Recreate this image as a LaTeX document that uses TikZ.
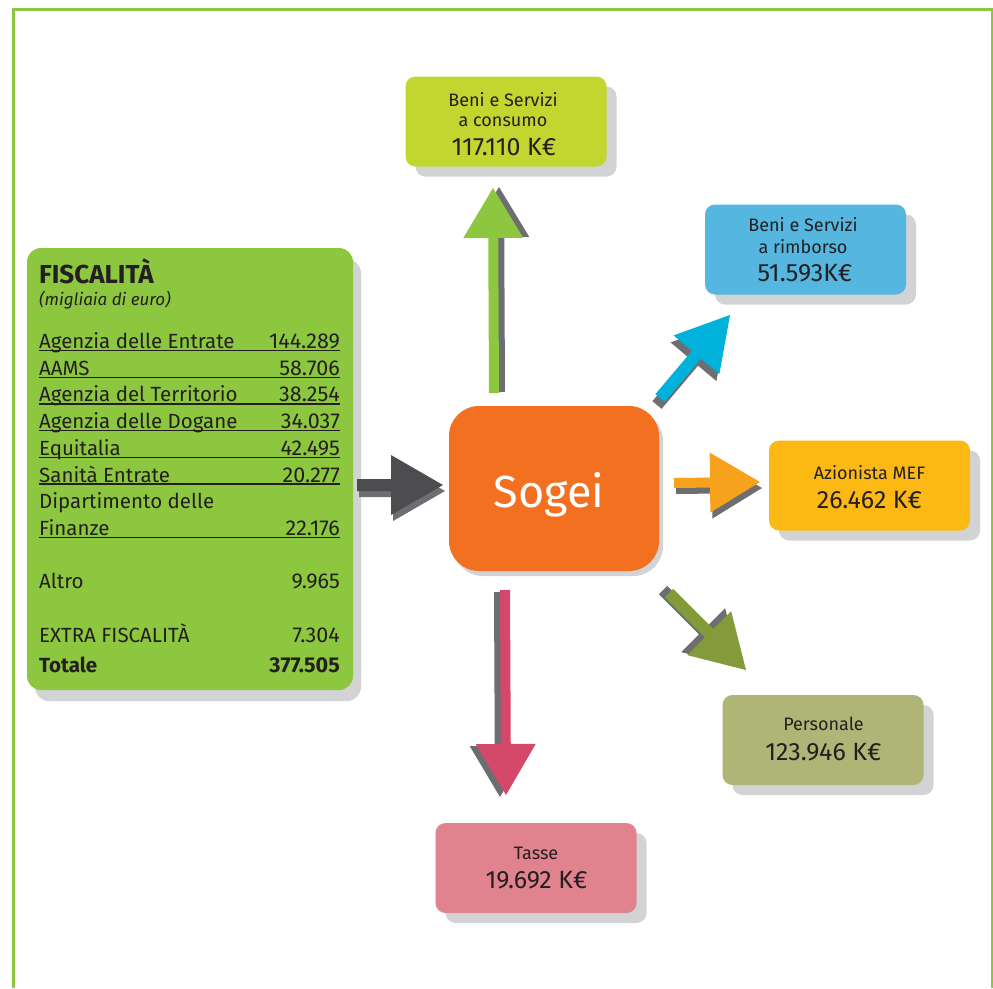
\documentclass[tikz,border=0pt]{standalone}
\usepackage{fontspec}
\setmainfont{Fira Sans}
\usetikzlibrary{calc,shadows}
\definecolor{frameG}{HTML}{8DC63F}
\definecolor{fiscG}{HTML}{8DC63F}
\definecolor{limeG}{HTML}{C1D72F}
\definecolor{skyB}{HTML}{55B7E0}
\definecolor{ambY}{HTML}{FDB913}
\definecolor{oliveL}{HTML}{AFB577}
\definecolor{pinkL}{HTML}{E0838F}
\definecolor{sogeiO}{HTML}{F37021}
\definecolor{shadowL}{HTML}{D1D3D4}
\definecolor{shadowA}{HTML}{6D6E71}
\definecolor{txt}{HTML}{231F20}
\definecolor{arDark}{HTML}{4D4D4F}
\definecolor{arGreen}{HTML}{8DC63F}
\definecolor{arBlue}{HTML}{00B1DB}
\definecolor{arAmber}{HTML}{F6A21D}
\definecolor{arOlive}{HTML}{849B3C}
\definecolor{arPink}{HTML}{D4486A}
% block arrow: S, T, shaft half width, head half width, head length, colour, shadow dx, shadow dy (canvas)
\newcommand\barrow[8]{%
  \coordinate (bH) at ($(#2)!#5pt!(#1)$);
  \begin{scope}[transform canvas={xshift=#7pt,yshift=#8pt}]
    \fill[shadowA] ($(#1)!#3pt!90:(#2)$) -- ($(bH)!#3pt!-90:(#1)$) -- ($(bH)!#4pt!-90:(#1)$) -- (#2)
      -- ($(bH)!#4pt!90:(#1)$) -- ($(bH)!#3pt!90:(#1)$) -- ($(#1)!#3pt!-90:(#2)$) -- cycle;
  \end{scope}
  \fill[#6] ($(#1)!#3pt!90:(#2)$) -- ($(bH)!#3pt!-90:(#1)$) -- ($(bH)!#4pt!-90:(#1)$) -- (#2)
      -- ($(bH)!#4pt!90:(#1)$) -- ($(bH)!#3pt!90:(#1)$) -- ($(#1)!#3pt!-90:(#2)$) -- cycle;
}
\begin{document}
\begin{tikzpicture}[x=1pt,y=-1pt,
  box/.style={rectangle, rounded corners=10pt, minimum width=201pt, minimum height=90pt, inner sep=0pt,
    drop shadow={shadow xshift=10pt,shadow yshift=-10pt,fill=shadowL,opacity=1}},
  sm/.style={font=\fontsize{18}{21}\selectfont, text=txt, inner sep=0pt, anchor=base},
  big/.style={font=\fontsize{25}{29}\selectfont, text=txt, inner sep=0pt, anchor=base},
  rowl/.style={font=\fontsize{20.5}{24}\selectfont, text=txt, inner sep=0pt, anchor=base west},
  rowr/.style={font=\fontsize{21.5}{24}\selectfont, text=txt, inner sep=0pt, anchor=base east},
  uline/.style={draw=txt, line width=1.2pt}]
\useasboundingbox (0,0) rectangle (993,988);
% frame
\draw[frameG, line width=3pt] (13.5,988) -- (13.5,9.5) -- (992.5,9.5);
\draw[frameG, line width=1.5pt] (992,9.5) -- (992,988);

% left box
\node[rectangle, rounded corners=14pt, fill=fiscG, minimum width=326pt, minimum height=442pt, inner sep=0pt,
  drop shadow={shadow xshift=8pt,shadow yshift=-11pt,fill=shadowL,opacity=1}] (fisc) at (190,469) {};
\node[font=\fontsize{26}{30}\selectfont\bfseries, text=txt, inner sep=0pt, anchor=base west] (fT) at (39,283) {FISCALITÀ};
\node[font=\fontsize{17}{20}\selectfont\itshape, text=txt, inner sep=0pt, anchor=base west] (fS) at (39,305) {(migliaia di euro)};
\node[rowl] (l1) at (39,348.5) {Agenzia delle Entrate};   \node[rowr] (v1) at (340,348.5) {144.289};
\node[rowl] (l2) at (39,375.2) {AAMS};                    \node[rowr] (v2) at (340,375.2) {58.706};
\node[rowl] (l3) at (39,401.9) {Agenzia del Territorio};  \node[rowr] (v3) at (340,401.9) {38.254};
\node[rowl] (l4) at (39,428.6) {Agenzia delle Dogane};    \node[rowr] (v4) at (340,428.6) {34.037};
\node[rowl] (l5) at (39,455.3) {Equitalia};               \node[rowr] (v5) at (340,455.3) {42.495};
\node[rowl] (l6) at (39,482)   {Sanità Entrate};          \node[rowr] (v6) at (340,482)   {20.277};
\node[rowl] (l7) at (39,508.7) {Dipartimento delle};
\node[rowl] (l8) at (39,535.4) {Finanze};                 \node[rowr] (v8) at (340,535.4) {22.176};
\node[rowl] (l9) at (39,588.5) {Altro};                   \node[rowr] (v9) at (340,588.5) {9.965};
\node[rowl] (l10) at (39,642)  {EXTRA FISCALITÀ};         \node[rowr] (v10) at (340,642) {7.304};
\node[rowl, font=\fontsize{20.5}{24}\selectfont\bfseries] (l11) at (39,672) {Totale};
\node[rowr, font=\fontsize{21.5}{24}\selectfont\bfseries] (v11) at (340,672) {377.505};
\foreach \yy in {350.5,377.2,403.9,430.6,457.3,484,537.4}{
  \draw[uline] (39,\yy) -- (340,\yy);
}

% Sogei
\node[rectangle, rounded corners=30pt, fill=sogeiO, minimum width=210pt, minimum height=165pt, inner sep=0pt,
  drop shadow={shadow xshift=4pt,shadow yshift=-5pt,fill=shadowL,opacity=1}] (sogei) at (554,488.5) {};
\node[font=\fontsize{45}{52}\selectfont, text=white, inner sep=0pt, anchor=base] (sogeiT) at (549,507) {Sogei};

% outcome boxes
\node[box, fill=limeG] (cons) at (506,121.5) {};
\node[sm] (cons1) at (503,106) {Beni e Servizi};
\node[sm] (cons2) at (503,126.7) {a consumo};
\node[big] (cons3) at (504,155) {117.110 K€};

\node[box, fill=skyB] (rimb) at (805.5,249.5) {};
\node[sm] (rimb1) at (803,231.7) {Beni e Servizi};
\node[sm] (rimb2) at (803,253.3) {a rimborso};
\node[big] (rimb3) at (805,281.7) {51.593K€};

\node[box, fill=ambY] (mef) at (869.5,485.5) {};
\node[sm] (mef1) at (869.5,479.3) {Azionista MEF};
\node[big] (mef2) at (869.5,508.3) {26.462 K€};

\node[box, fill=oliveL] (pers) at (823,740) {};
\node[sm] (pers1) at (823.5,730.7) {Personale};
\node[big] (pers2) at (823.5,760) {123.946 K€};

\node[box, fill=pinkL] (tasse) at (536,868) {};
\node[sm] (tasse1) at (536,859.3) {Tasse};
\node[big] (tasse2) at (536.5,888.3) {19.692 K€};

% arrow end points
\coordinate (inS) at (357,485);  \coordinate (inT) at (443,485);
\coordinate (upS) at (494,393);  \coordinate (upT) at (493,188);
\coordinate (blS) at (660,398);  \coordinate (blT) at (730,315);
\coordinate (amS) at (674,483);  \coordinate (amT) at (760,482);
\coordinate (olS) at (669,593);  \coordinate (olT) at (746,670);
\coordinate (pkS) at (505,590);  \coordinate (pkT) at (506,795);

\barrow{inS}{inT}{6}{30}{52}{arDark}{2}{-6}
\barrow{upS}{upT}{5}{30}{50}{arGreen}{6}{1}
\barrow{blS}{blT}{6}{30}{52}{arBlue}{-3}{-7}
\barrow{amS}{amT}{5}{30}{50}{arAmber}{2}{-6}
\barrow{olS}{olT}{6}{31}{52}{arOlive}{-6}{3}
\barrow{pkS}{pkT}{5}{30}{51}{arPink}{-6}{-2}
\end{tikzpicture}
\end{document}
